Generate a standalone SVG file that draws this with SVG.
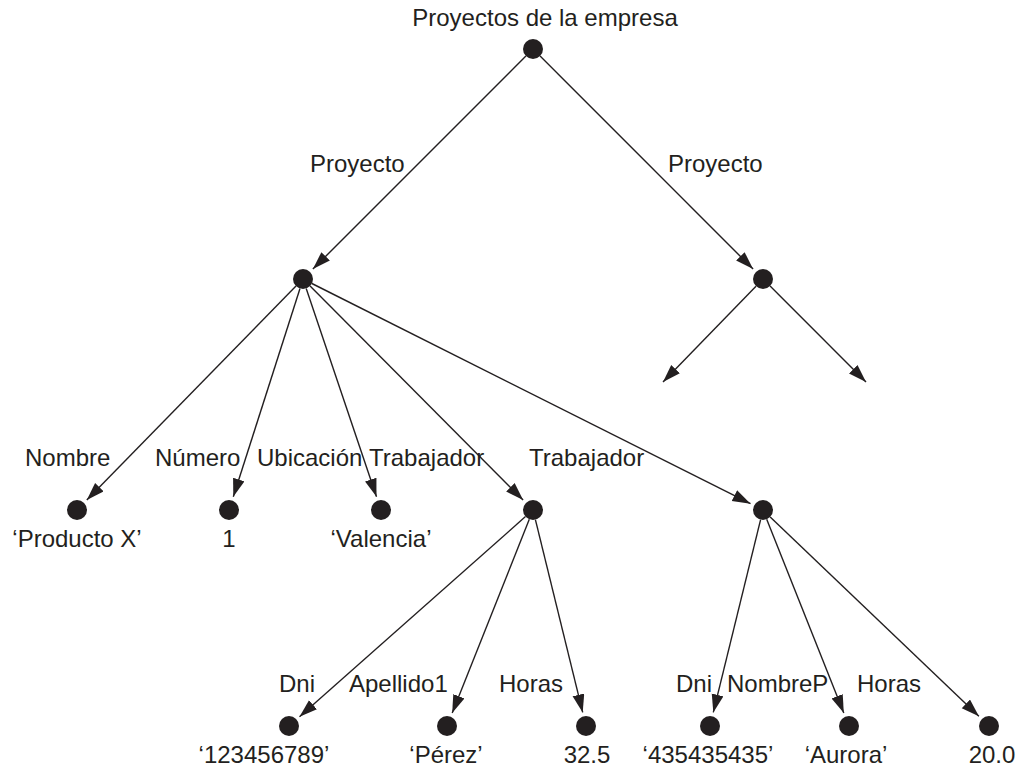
<svg xmlns="http://www.w3.org/2000/svg" width="1018" height="769" viewBox="0 0 1018 769">
<defs>
<marker id="ah" markerUnits="userSpaceOnUse" markerWidth="20" markerHeight="14" refX="18" refY="6" orient="auto">
<path d="M0,0 L18,6 L0,12 Z" fill="#231f20"/>
</marker>
<style>
text{font-family:"Liberation Sans",Arial,sans-serif;font-size:24px;fill:#231f20}
.m{text-anchor:middle}
.n{fill:#231f20}
.e line{stroke:#231f20;stroke-width:1.4;marker-end:url(#ah)}
</style>
</defs>
<rect width="1018" height="769" fill="#fff"/>
<g class="e" id="connectors">
<line x1="525.9" y1="56.1" x2="312.9" y2="269.1"/>
<line x1="540.1" y1="56.1" x2="753.1" y2="269.1"/>
<line x1="296.0" y1="286.1" x2="86.8" y2="500.0"/>
<line x1="300.0" y1="288.5" x2="233.3" y2="496.7"/>
<line x1="306.2" y1="288.5" x2="376.5" y2="496.7"/>
<line x1="310.1" y1="286.1" x2="523.1" y2="500.1"/>
<line x1="311.9" y1="283.5" x2="750.5" y2="503.7"/>
<line x1="756.0" y1="286.2" x2="663" y2="382"/>
<line x1="770.1" y1="286.1" x2="866" y2="382"/>
<line x1="525.5" y1="516.6" x2="299.5" y2="716.7"/>
<line x1="529.3" y1="519.3" x2="452.2" y2="713.0"/>
<line x1="535.4" y1="519.7" x2="582.7" y2="712.4"/>
<line x1="760.6" y1="519.7" x2="713.3" y2="712.4"/>
<line x1="766.7" y1="519.3" x2="843.8" y2="713.0"/>
<line x1="770.2" y1="516.9" x2="978.9" y2="716.3"/>
</g>
<g id="labels">
<text x="310" y="172">Proyecto</text>
<text x="668" y="172">Proyecto</text>
<text x="25" y="466">Nombre</text>
<text x="155" y="466">Número</text>
<text x="257" y="466">Ubicación</text>
<text x="369" y="466">Trabajador</text>
<text x="529" y="466">Trabajador</text>
<text x="279" y="692">Dni</text>
<text x="349" y="692">Apellido1</text>
<text x="499" y="692">Horas</text>
<text x="676" y="692">Dni</text>
<text x="727" y="692">NombreP</text>
<text x="857" y="692">Horas</text>
</g>
<g id="root"><circle class="n" cx="533" cy="49" r="10"/><text class="m" x="545" y="26">Proyectos de la empresa</text></g>
<g id="proyecto1"><circle class="n" cx="303" cy="279" r="10"/></g>
<g id="proyecto2"><circle class="n" cx="763" cy="279" r="10"/></g>
<g id="nombre"><circle class="n" cx="77" cy="510" r="10"/><text class="m" x="77" y="547">‘Producto X’</text></g>
<g id="numero"><circle class="n" cx="229" cy="510" r="10"/><text class="m" x="229" y="547">1</text></g>
<g id="ubicacion"><circle class="n" cx="381" cy="510" r="10"/><text class="m" x="381" y="547">‘Valencia’</text></g>
<g id="trabajador1"><circle class="n" cx="533" cy="510" r="10"/></g>
<g id="trabajador2"><circle class="n" cx="763" cy="510" r="10"/></g>
<g id="dni1"><circle class="n" cx="289" cy="726" r="10"/><text class="m" x="264" y="763">‘123456789’</text></g>
<g id="apellido1"><circle class="n" cx="447" cy="726" r="10"/><text class="m" x="446" y="763">‘Pérez’</text></g>
<g id="horas1"><circle class="n" cx="586" cy="726" r="10"/><text class="m" x="587" y="763">32.5</text></g>
<g id="dni2"><circle class="n" cx="710" cy="726" r="10"/><text class="m" x="708" y="763">‘435435435’</text></g>
<g id="nombreP"><circle class="n" cx="849" cy="726" r="10"/><text class="m" x="846" y="763">‘Aurora’</text></g>
<g id="horas2"><circle class="n" cx="989" cy="726" r="10"/><text class="m" x="992" y="763">20.0</text></g>
</svg>
